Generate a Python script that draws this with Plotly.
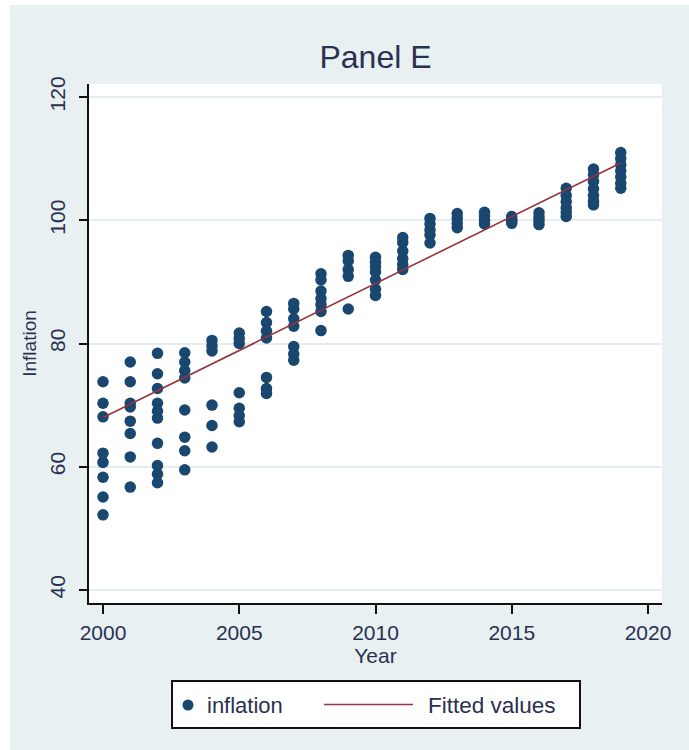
import plotly.graph_objects as go

# Inflation index observations, one row per year
years = list(range(2000, 2020))
inflation_by_year = [
    [73.8, 70.3, 68.1, 62.2, 60.7, 58.3, 55.1, 52.2],                      # 2000
    [77.0, 73.8, 70.3, 69.7, 67.4, 65.4, 61.6, 56.7],                      # 2001
    [78.4, 75.1, 72.7, 70.3, 69.0, 67.9, 63.8, 60.2, 58.8, 57.4],          # 2002
    [78.5, 77.0, 75.6, 74.4, 69.2, 64.8, 62.6, 59.5],                      # 2003
    [80.5, 79.6, 78.8, 70.0, 66.7, 63.2],                                  # 2004
    [81.7, 80.8, 80.0, 72.0, 69.5, 68.3, 67.3],                            # 2005
    [85.2, 83.4, 82.0, 80.9, 74.5, 72.7, 71.9],                            # 2006
    [86.5, 85.6, 84.0, 82.8, 79.5, 78.3, 77.3],                            # 2007
    [91.3, 90.3, 88.5, 87.3, 86.3, 85.2, 82.1],                            # 2008
    [94.3, 93.4, 92.0, 90.9, 85.6],                                        # 2009
    [94.0, 93.2, 92.4, 91.6, 90.3, 88.8, 87.8],                            # 2010
    [97.2, 96.4, 95.0, 93.8, 92.8, 92.0],                                  # 2011
    [100.3, 99.4, 98.4, 97.6, 96.3],                                       # 2012
    [101.1, 100.3, 99.5, 98.8],                                            # 2013
    [101.3, 100.7, 100.0, 99.4],                                           # 2014
    [100.6, 100.0, 100.0, 99.5],                                           # 2015
    [101.2, 100.5, 99.9, 99.3],                                            # 2016
    [105.2, 104.0, 103.0, 102.0, 101.3, 100.6],                            # 2017
    [108.3, 107.4, 106.3, 105.1, 104.0, 103.1, 102.5],                     # 2018
    [111.0, 110.0, 109.0, 108.0, 107.0, 106.0, 105.2],                     # 2019
]

# fitted regression line at the ends of the sample
fit_years = [2000, 2019]
fitted_values = [68.0, 109.3]

x_ticks = [2000, 2005, 2010, 2015, 2020]
y_ticks = [40, 60, 80, 100, 120]

# flatten to observation level
obs_year = [y for y, vals in zip(years, inflation_by_year) for _ in vals]
obs_infl = [v for vals in inflation_by_year for v in vals]

NAVY = "#1a476f"
MAROON = "#94343c"
BG = "#e8f0f2"
TEXT = "#2a3150"
FONT = "Liberation Sans, Arial, sans-serif"

W, H = 689, 750
L, R, T, B = 89, 662, 84, 603  # plot area in pixels


def px(xp):
    return (xp - L) / (R - L)


def py(yp):
    return (B - yp) / (B - T)


fig = go.Figure()
fig.add_trace(go.Scatter(
    x=obs_year, y=obs_infl, mode="markers", name="inflation",
    marker=dict(symbol="circle", size=11.5, color=NAVY),
    showlegend=False,
))
fig.add_trace(go.Scatter(
    x=fit_years, y=fitted_values, mode="lines", name="Fitted values",
    line=dict(color=MAROON, width=1.6),
    showlegend=False,
))

shapes = [
    # white frame strips along top and left edges
    dict(type="rect", xref="paper", yref="paper", x0=px(0), x1=px(W),
         y0=py(5), y1=py(0), fillcolor="white", line_width=0, layer="below"),
    dict(type="rect", xref="paper", yref="paper", x0=px(0), x1=px(10),
         y0=py(H), y1=py(0), fillcolor="white", line_width=0, layer="below"),
    # legend box
    dict(type="rect", xref="paper", yref="paper", x0=px(172), x1=px(580),
         y0=py(728), y1=py(681), fillcolor="white",
         line=dict(color="#111111", width=2)),
    dict(type="circle", xref="paper", yref="paper", x0=px(182.5), x1=px(193.5),
         y0=py(710.5), y1=py(699.5), fillcolor=NAVY, line_width=0),
    dict(type="line", xref="paper", yref="paper", x0=px(324), x1=px(413),
         y0=py(704.5), y1=py(704.5), line=dict(color=MAROON, width=1.6)),
]

annotations = [
    dict(text="inflation", xref="paper", yref="paper", x=px(205), y=py(705),
         xanchor="left", yanchor="middle", showarrow=False,
         font=dict(family=FONT, size=22, color=TEXT)),
    dict(text="Fitted values", xref="paper", yref="paper", x=px(426), y=py(705),
         xanchor="left", yanchor="middle", showarrow=False,
         font=dict(family=FONT, size=22.5, color=TEXT)),
]

fig.update_layout(
    width=W, height=H,
    margin=dict(l=L, r=W - R, t=T, b=H - B),
    paper_bgcolor=BG, plot_bgcolor="white",
    font=dict(family=FONT, color=TEXT, size=21),
    title=dict(text="Panel E", x=px(375.5), xref="paper", xanchor="center",
               y=1 - 57 / H, yanchor="middle",
               font=dict(family=FONT, size=32, color=TEXT)),
    shapes=shapes, annotations=annotations,
    showlegend=False,
)

fig.update_xaxes(
    range=[2000 - 14 / 27.25, 2020 + 14 / 27.25],
    tickvals=x_ticks, ticktext=[str(v) for v in x_ticks],
    showgrid=False, zeroline=False,
    showline=True, linecolor="#111111", linewidth=2,
    ticks="outside", ticklen=9, tickwidth=2, tickcolor="#111111",
    ticklabelstandoff=1,
    title=dict(text="Year", standoff=0, font=dict(size=21)),
)
fig.update_yaxes(
    range=[40 - 13 / 6.1625, 120 + 13 / 6.1625],
    tickvals=y_ticks, ticktext=[str(v) for v in y_ticks], tickangle=-90,
    showgrid=True, gridcolor="#e4eef1", gridwidth=1.5, zeroline=False,
    showline=True, linecolor="#111111", linewidth=2,
    ticks="outside", ticklen=8, tickwidth=2, tickcolor="#111111",
    ticklabelstandoff=6,
    title=dict(text="Inflation", standoff=4, font=dict(size=19)),
)

fig.write_html("out.html")
